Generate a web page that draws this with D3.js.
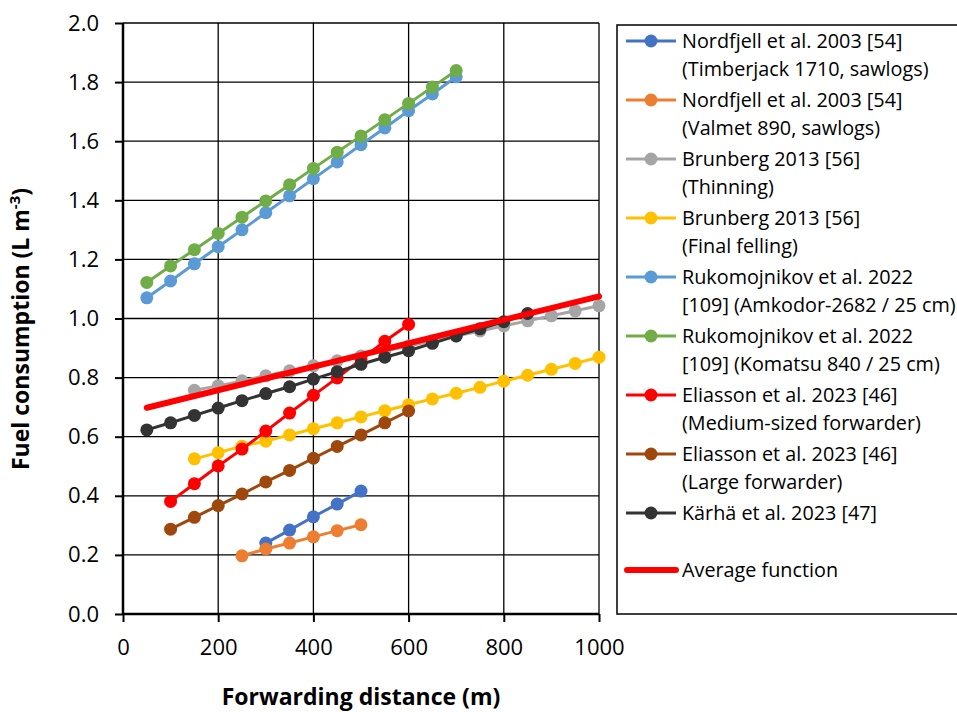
<!DOCTYPE html>
<meta charset="utf-8">
<head>
    <script type="text/javascript" src="https://cdn.jsdelivr.net/npm/d3@7"></script>
    <style>
        body { margin: 0; background: #fff; }
        text { font-family: "Open Sans", "Noto Sans", sans-serif; fill: #000; }
    </style>
</head>
<body>
    <div id="chart"></div>
    <script>

        // data
        let legend_labels = [
            ['Nordfjell et al. 2003 [54]', '(Timberjack 1710, sawlogs)'],
            ['Nordfjell et al. 2003 [54]', '(Valmet 890, sawlogs)'],
            ['Brunberg 2013 [56]', '(Thinning)'],
            ['Brunberg 2013 [56]', '(Final felling)'],
            ['Rukomojnikov et al. 2022', '[109] (Amkodor-2682 / 25 cm)'],
            ['Rukomojnikov et al. 2022', '[109] (Komatsu 840 / 25 cm)'],
            ['Eliasson et al. 2023 [46]', '(Medium-sized forwarder)'],
            ['Eliasson et al. 2023 [46]', '(Large forwarder)'],
            ['Kärhä et al. 2023 [47]']
        ]
        let series_colors = ['#4472C4', '#ED7D31', '#A5A5A5', '#FFC000', '#5B9BD5', '#70AD47', '#FF0000', '#9E480E', '#333333']

        let x_timberjack = [300, 350, 400, 450, 500]
        let y_timberjack = [0.240, 0.284, 0.329, 0.372, 0.416]

        let x_valmet = [250, 300, 350, 400, 450, 500]
        let y_valmet = [0.197, 0.220, 0.240, 0.261, 0.282, 0.302]

        let x_thinning = [150, 200, 250, 300, 350, 400, 450, 500, 550, 600, 650, 700, 750, 800, 850, 900, 950, 1000]
        let y_thinning = [0.757, 0.772, 0.789, 0.806, 0.823, 0.840, 0.857, 0.873, 0.890, 0.907, 0.924, 0.941, 0.958, 0.975, 0.992, 1.009, 1.026, 1.043]

        let x_final = [150, 200, 250, 300, 350, 400, 450, 500, 550, 600, 650, 700, 750, 800, 850, 900, 950, 1000]
        let y_final = [0.525, 0.546, 0.568, 0.585, 0.606, 0.627, 0.647, 0.667, 0.688, 0.708, 0.728, 0.747, 0.767, 0.788, 0.808, 0.828, 0.848, 0.869]

        let x_amkodor = [50, 100, 150, 200, 250, 300, 350, 400, 450, 500, 550, 600, 650, 700]
        let y_amkodor = [1.070, 1.127, 1.185, 1.243, 1.300, 1.358, 1.415, 1.473, 1.530, 1.588, 1.645, 1.703, 1.760, 1.818]

        let x_komatsu = [50, 100, 150, 200, 250, 300, 350, 400, 450, 500, 550, 600, 650, 700]
        let y_komatsu = [1.122, 1.178, 1.233, 1.288, 1.343, 1.398, 1.453, 1.508, 1.563, 1.618, 1.673, 1.728, 1.783, 1.839]

        let x_medium = [100, 150, 200, 250, 300, 350, 400, 450, 500, 550, 600]
        let y_medium = [0.381, 0.441, 0.501, 0.558, 0.619, 0.680, 0.740, 0.799, 0.861, 0.923, 0.980]

        let x_large = [100, 150, 200, 250, 300, 350, 400, 450, 500, 550, 600]
        let y_large = [0.287, 0.327, 0.367, 0.406, 0.447, 0.486, 0.527, 0.567, 0.606, 0.647, 0.687]

        let x_karha = [50, 100, 150, 200, 250, 300, 350, 400, 450, 500, 550, 600, 650, 700, 750, 800, 850]
        let y_karha = [0.623, 0.647, 0.672, 0.697, 0.722, 0.746, 0.769, 0.795, 0.820, 0.845, 0.869, 0.891, 0.916, 0.941, 0.965, 0.989, 1.017]

        let x_average = [50, 1000]
        let y_average = [0.698, 1.075]

        let x_ticks = [0, 200, 400, 600, 800, 1000]
        let y_ticks = [0.0, 0.2, 0.4, 0.6, 0.8, 1.0, 1.2, 1.4, 1.6, 1.8, 2.0]

        let series_x = [x_timberjack, x_valmet, x_thinning, x_final, x_amkodor, x_komatsu, x_medium, x_large, x_karha]
        let series_y = [y_timberjack, y_valmet, y_thinning, y_final, y_amkodor, y_komatsu, y_medium, y_large, y_karha]

        let svg_width = 957
        let svg_height = 712

        let plot = { left: 123, right: 599, top: 23, bottom: 614 }

        let svg = d3.select("#chart")
            .append("svg")
            .attr("width", svg_width)
            .attr("height", svg_height)

        let x = d3.scaleLinear().domain([0, 1000]).range([plot.left, plot.right])
        let y = d3.scaleLinear().domain([0, 2]).range([plot.bottom, plot.top])

        // grid
        let grid = svg.append("g")
        grid.selectAll(".vgrid")
            .data(x_ticks.slice(1))
            .enter()
            .append("line")
            .attr("x1", d => x(d)).attr("x2", d => x(d))
            .attr("y1", plot.top).attr("y2", plot.bottom)
            .attr("stroke", "#000").attr("stroke-width", 1.3)
        grid.selectAll(".hgrid")
            .data(y_ticks.slice(1))
            .enter()
            .append("line")
            .attr("x1", plot.left).attr("x2", plot.right)
            .attr("y1", d => y(d)).attr("y2", d => y(d))
            .attr("stroke", "#000").attr("stroke-width", 1.3)

        // axes
        let x_axis = d3.axisBottom(x)
            .tickValues(x_ticks)
            .tickSize(8)
            .tickPadding(17)
            .tickFormat(d3.format("d"))
        let y_axis = d3.axisLeft(y)
            .tickValues(y_ticks)
            .tickSize(8)
            .tickPadding(16)
            .tickFormat(d3.format(".1f"))

        let gx = svg.append("g")
            .attr("transform", "translate(0," + plot.bottom + ")")
            .call(x_axis)
        let gy = svg.append("g")
            .attr("transform", "translate(" + plot.left + ",0)")
            .call(y_axis)

        for (let g of [gx, gy]) {
            g.select(".domain").attr("stroke", "#000").attr("stroke-width", 2.5)
            g.selectAll(".tick line").attr("stroke", "#000").attr("stroke-width", 2)
            g.selectAll(".tick text")
                .style("font-family", '"Open Sans", sans-serif')
                .style("font-size", "22px")
                .attr("fill", "#000")
        }
        gy.select(".domain").attr("d", "M0," + plot.bottom + "V" + plot.top)
        gx.select(".domain").attr("d", "M" + plot.left + ",0H" + plot.right)

        // series
        let line = d3.line()
            .x(d => x(d[0]))
            .y(d => y(d[1]))

        for (let i = 0; i < series_x.length; i = i + 1) {
            let pts = series_x[i].map((v, j) => [v, series_y[i][j]])
            let g = svg.append("g")
            g.append("path")
                .datum(pts)
                .attr("d", line)
                .attr("fill", "none")
                .attr("stroke", series_colors[i])
                .attr("stroke-width", 3)
            g.selectAll("circle")
                .data(pts)
                .enter()
                .append("circle")
                .attr("cx", d => x(d[0]))
                .attr("cy", d => y(d[1]))
                .attr("r", 6.5)
                .attr("fill", series_colors[i])
        }

        let avg_pts = x_average.map((v, j) => [v, y_average[j]])
        svg.append("path")
            .datum(avg_pts)
            .attr("d", line)
            .attr("fill", "none")
            .attr("stroke", "#FF0000")
            .attr("stroke-width", 6)
            .attr("stroke-linecap", "round")

        // axis titles
        svg.append("text")
            .attr("x", (plot.left + plot.right) / 2)
            .attr("y", 705)
            .attr("text-anchor", "middle")
            .style("font-size", "23px")
            .style("font-weight", "bold")
            .text("Forwarding distance (m)")

        let ytitle = svg.append("text")
            .attr("transform", "translate(29,329) rotate(-90)")
            .attr("text-anchor", "middle")
            .style("font-size", "23px")
            .style("font-weight", "bold")
        ytitle.append("tspan").text("Fuel consumption (L m")
        ytitle.append("tspan").attr("dy", -9).style("font-size", "15px").text("-3")
        ytitle.append("tspan").attr("dy", 9).text(")")

        // legend
        let legend = svg.append("g")
        legend.append("rect")
            .attr("x", 617)
            .attr("y", 25)
            .attr("width", 400)
            .attr("height", 589)
            .attr("fill", "#fff")
            .attr("stroke", "#000")
            .attr("stroke-width", 1.5)

        for (let i = 0; i < legend_labels.length; i = i + 1) {
            let ly = 41 + i * 59
            legend.append("line")
                .attr("x1", 626).attr("x2", 676)
                .attr("y1", ly).attr("y2", ly)
                .attr("stroke", series_colors[i])
                .attr("stroke-width", 3)
            legend.append("circle")
                .attr("cx", 651).attr("cy", ly)
                .attr("r", 6.5)
                .attr("fill", series_colors[i])
            for (let k = 0; k < legend_labels[i].length; k = k + 1) {
                legend.append("text")
                    .attr("x", 682)
                    .attr("y", ly + k * 28 + 7)
                    .style("font-size", "19.8px")
                    .text(legend_labels[i][k])
            }
        }

        legend.append("line")
            .attr("x1", 627).attr("x2", 676)
            .attr("y1", 570).attr("y2", 570)
            .attr("stroke", "#FF0000")
            .attr("stroke-width", 6)
            .attr("stroke-linecap", "round")
        legend.append("text")
            .attr("x", 682)
            .attr("y", 577)
            .style("font-size", "19.8px")
            .text("Average function")

    </script>
</body>
</html>
